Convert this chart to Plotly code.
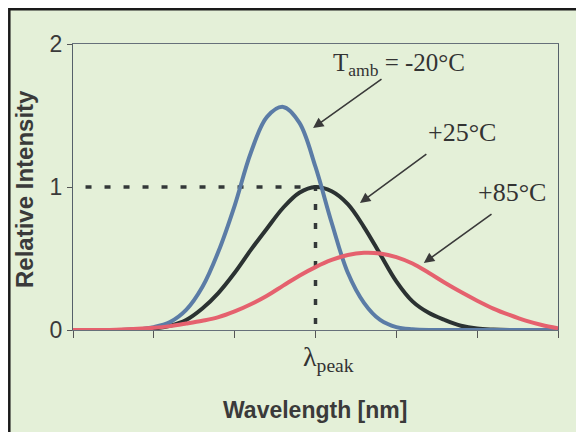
import plotly.graph_objects as go

# ---- data ----
wavelength = [0.0, 0.2, 0.4, 0.6, 0.8, 1.0, 1.2, 1.4, 1.6, 1.8, 2.0, 2.2, 2.4, 2.6, 2.8, 3.0,
              3.2, 3.4, 3.6, 3.8, 4.0, 4.2, 4.4, 4.6, 4.8, 5.0, 5.2, 5.4, 5.6, 5.8, 6.0]
intensity_m20 = [0, 0, 0, 0, 0.005, 0.02, 0.055, 0.14, 0.30, 0.55, 0.87, 1.24, 1.49, 1.56, 1.45, 1.14,
                 0.75, 0.40, 0.19, 0.07, 0.02, 0.005, 0, 0, 0, 0, 0, 0, 0, 0, 0]
intensity_p25 = [0, 0, 0, 0, 0.003, 0.01, 0.03, 0.07, 0.15, 0.26, 0.40, 0.56, 0.71, 0.855, 0.96, 1.0,
                 0.97, 0.88, 0.72, 0.53, 0.34, 0.20, 0.12, 0.07, 0.03, 0.01, 0.003, 0, 0, 0, 0]
intensity_p85 = [0, 0, 0, 0.004, 0.008, 0.015, 0.027, 0.045, 0.065, 0.09, 0.13, 0.18, 0.24, 0.31, 0.38, 0.44,
                 0.49, 0.525, 0.54, 0.535, 0.51, 0.465, 0.40, 0.33, 0.265, 0.205, 0.15, 0.105, 0.065, 0.035, 0.012]
ref_x = [0.155, 3.0, 3.0]
ref_y = [1.0, 1.0, 0.0]
y_ticks = [0, 1, 2]
x_ticks = [0, 1, 2, 3, 4, 5, 6]

BG = "#e4f0d8"
OFF = 8  # default page margin of the html body
W, H = 584 - OFF, 432 - OFF
L, R, T, B = 73 - OFF, 26, 44 - OFF, 102
pw, ph = W - L - R, H - T - B

def px(xpage):
    return (xpage - OFF - L) / pw

def py(ypage):
    return (H - B - (ypage - OFF)) / ph

fig = go.Figure()
fig.add_trace(go.Scatter(x=ref_x, y=ref_y, mode="lines",
                         line=dict(color="#333838", width=3.5, dash="6px,13px"),
                         hoverinfo="skip"))
fig.add_trace(go.Scatter(x=wavelength, y=intensity_p25, mode="lines",
                         line=dict(color="#2b3232", width=4, shape="spline", smoothing=1.0)))
fig.add_trace(go.Scatter(x=wavelength, y=intensity_m20, mode="lines",
                         line=dict(color="#5b7ca6", width=4, shape="spline", smoothing=1.0)))
fig.add_trace(go.Scatter(x=wavelength, y=intensity_p85, mode="lines",
                         line=dict(color="#e5616e", width=4, shape="spline", smoothing=1.0)))

serif = dict(family="Liberation Serif, Times New Roman, serif", size=26, color="#333333")
ann = [
    dict(x=4.03, y=1.86, text="T<sub>amb</sub> = -20°C", showarrow=False,
         font=dict(family="Liberation Serif, Times New Roman, serif", size=25, color="#333333"),
         xanchor="center", yanchor="middle"),
    dict(x=4.81, y=1.378, text="+25°C", showarrow=False, font=serif,
         xanchor="center", yanchor="middle"),
    dict(x=5.43, y=0.965, text="+85°C", showarrow=False, font=serif,
         xanchor="center", yanchor="middle"),
    dict(x=px(328), y=py(358), xref="paper", yref="paper", text="λ<sub>peak</sub>", showarrow=False,
         font=dict(family="Liberation Serif, Times New Roman, serif", size=28, color="#333333"),
         xanchor="center", yanchor="middle"),
]
arrows = [((2.97, 1.413), (3.835, 1.762)),
          ((3.55, 0.888), (4.39, 1.238)),
          ((4.34, 0.469), (5.196, 0.818))]
for (hx, hy), (tx, ty) in arrows:
    ann.append(dict(x=hx, y=hy, ax=tx, ay=ty, axref="x", ayref="y", xref="x", yref="y",
                    text="", showarrow=True, arrowhead=2, arrowsize=1.3, arrowwidth=1.6,
                    arrowcolor="#3a3a3a"))
ann.append(dict(x=px(315), y=py(410), xref="paper", yref="paper", text="<b>Wavelength [nm]</b>",
                showarrow=False, xanchor="center", yanchor="middle",
                font=dict(family="Liberation Sans, Arial, sans-serif", size=23, color="#3a3a3a")))
ann.append(dict(x=px(24), y=py(189), xref="paper", yref="paper", text="<b>Relative Intensity</b>",
                showarrow=False, xanchor="center", yanchor="middle", textangle=-90,
                font=dict(family="Liberation Sans, Arial, sans-serif", size=24, color="#3a3a3a")))

fig.update_layout(
    width=W, height=H,
    margin=dict(l=L, r=R, t=T, b=B, pad=0),
    paper_bgcolor="white",
    plot_bgcolor="rgba(0,0,0,0)",
    showlegend=False,
    annotations=ann,
    shapes=[dict(type="rect", xref="paper", yref="paper",
                 x0=px(OFF + 1.3), x1=px(620), y0=py(470), y1=py(OFF + 1.3),
                 fillcolor=BG, line=dict(color="#1a1a1a", width=2.5), layer="below")],
)
fig.update_xaxes(range=[0, 6], tickvals=x_ticks, showticklabels=False,
                 ticks="outside", ticklen=7, tickcolor="#555", tickwidth=1,
                 showgrid=False, zeroline=False, showline=True, linecolor="#66707a",
                 linewidth=1, mirror=True)
fig.update_yaxes(range=[0, 2], tickvals=y_ticks, ticks="outside", ticklen=5,
                 tickcolor="#555", tickwidth=1,
                 tickfont=dict(family="Liberation Sans, Arial, sans-serif", size=23, color="#3a3a3a"),
                 showgrid=False, zeroline=False, showline=True, linecolor="#55606a",
                 linewidth=1, mirror=True)

fig.write_html("out.html")
